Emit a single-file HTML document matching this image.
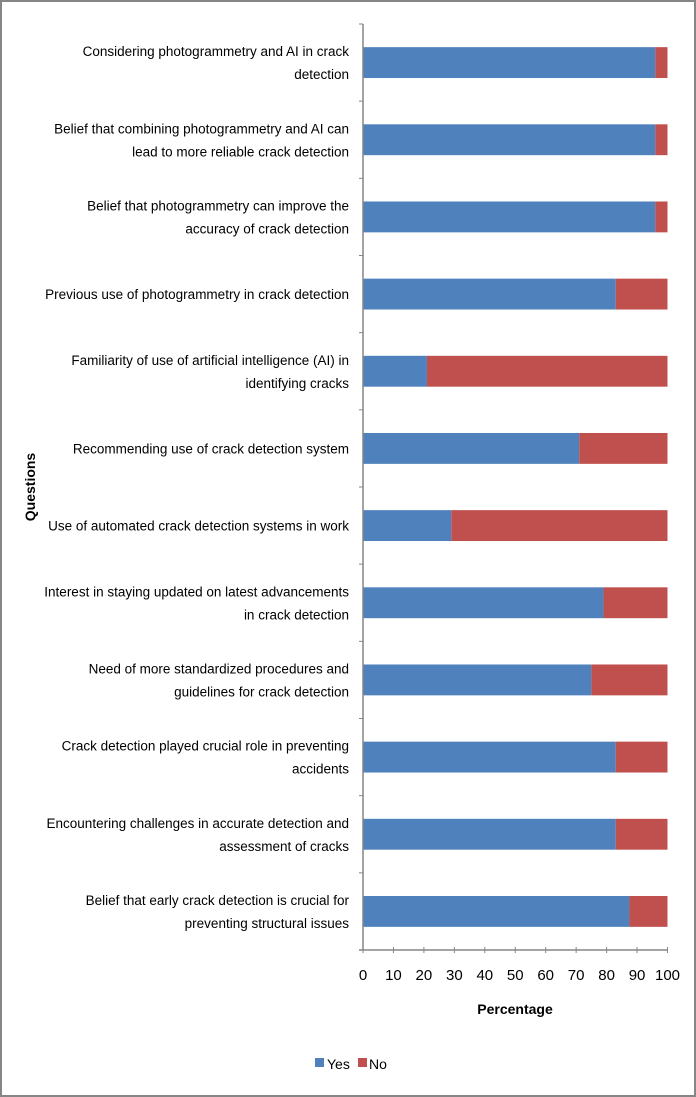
<!DOCTYPE html>
<html><head><meta charset="utf-8"><style>
html,body{margin:0;padding:0;background:#fff}
svg{display:block}
text{font-family:"Liberation Sans",sans-serif;fill:#000}
</style></head><body>
<svg id="chart" width="696" height="1097" viewBox="0 0 696 1097" xmlns="http://www.w3.org/2000/svg">
<rect x="1" y="1" width="694" height="1095" fill="#fff" stroke="#868686" stroke-width="2"/>
<g id="plot"></g>
</svg>
<script>
const categories = [
 ["Considering photogrammetry and AI in crack","detection"],
 ["Belief that combining photogrammetry and AI can","lead to more reliable crack detection"],
 ["Belief that photogrammetry can improve the","accuracy of crack detection"],
 ["Previous use of photogrammetry in crack detection"],
 ["Familiarity of use of artificial intelligence (AI) in","identifying cracks"],
 ["Recommending use of crack detection system"],
 ["Use of automated crack detection systems in work"],
 ["Interest in staying updated on latest advancements","in crack detection"],
 ["Need of more standardized procedures and","guidelines for crack detection"],
 ["Crack detection played crucial role in preventing","accidents"],
 ["Encountering challenges in accurate detection and","assessment of  cracks"],
 ["Belief that early crack detection is crucial for","preventing structural issues"]
];
const yesValues = [96,96,96,83,21,71,29,79,75,83,83,87.5];
const noValues = [4,4,4,17,79,29,71,21,25,17,17,12.5];
const tickLabels = [0,10,20,30,40,50,60,70,80,90,100];

const NS="http://www.w3.org/2000/svg";
const g=document.getElementById('plot');
const X0=363,X1=667.5,Y0=24,Y1=950;
const band=(Y1-Y0)/categories.length;
const xs=v=>X0+(X1-X0)*v/100;
const ys=i=>Y0+band*i;
function el(t,a,txt){const e=document.createElementNS(NS,t);for(const k in a)e.setAttribute(k,a[k]);if(txt!==undefined)e.textContent=txt;g.appendChild(e);return e;}

categories.forEach((lines,i)=>{
  const top=ys(i)+band*0.3, h=band*0.4;
  const by=el('rect',{x:xs(0),y:top,width:xs(yesValues[i])-xs(0),height:h,fill:'#4f81bd'});
  
  
  const bn=el('rect',{x:xs(yesValues[i]),y:top,width:xs(yesValues[i]+noValues[i])-xs(yesValues[i]),height:h,fill:'#c0504d'});
  
  
  const cy=ys(i)+band/2;
  const t=el('text',{x:349,'text-anchor':'end','font-size':'13.5'});
  
  
  lines.forEach((ln,j)=>{
    const ts=document.createElementNS(NS,'tspan');
    ts.setAttribute('x',349);
    ts.setAttribute('y',cy+5+(j-(lines.length-1)/2)*23);
    ts.textContent=ln;t.appendChild(ts);
  });
  const tk=el('line',{x1:X0-4,x2:X0,y1:ys(i),y2:ys(i),stroke:'#868686'});
  
  
});
const ax=el('line',{x1:X0,x2:X0,y1:Y0,y2:Y1,stroke:'#868686','stroke-width':1.5});


const xa=el('line',{x1:X0-4,x2:X1,y1:Y1,y2:Y1,stroke:'#868686','stroke-width':1.5});


tickLabels.forEach(v=>{
  const l=el('line',{x1:xs(v),x2:xs(v),y1:Y1-3,y2:Y1+3,stroke:'#868686'});
  
  
  const t=el('text',{x:xs(v),y:980,'text-anchor':'middle','font-size':'15'},String(v));
  
  
});
const xt=el('text',{x:515,y:1014,'text-anchor':'middle','font-size':'14','font-weight':'bold'},'Percentage');


const yt=el('text',{x:0,y:0,'text-anchor':'middle','font-size':'14','font-weight':'bold',transform:'translate(35,487) rotate(-90)'},'Questions');


const l1=el('rect',{x:315,y:1058,width:9,height:9,fill:'#4f81bd'});


const l1t=el('text',{x:327,y:1069,'font-size':'14'},'Yes');


const l2=el('rect',{x:358,y:1058,width:9,height:9,fill:'#c0504d'});


const l2t=el('text',{x:369,y:1069,'font-size':'14'},'No');


</script>
</body></html>
